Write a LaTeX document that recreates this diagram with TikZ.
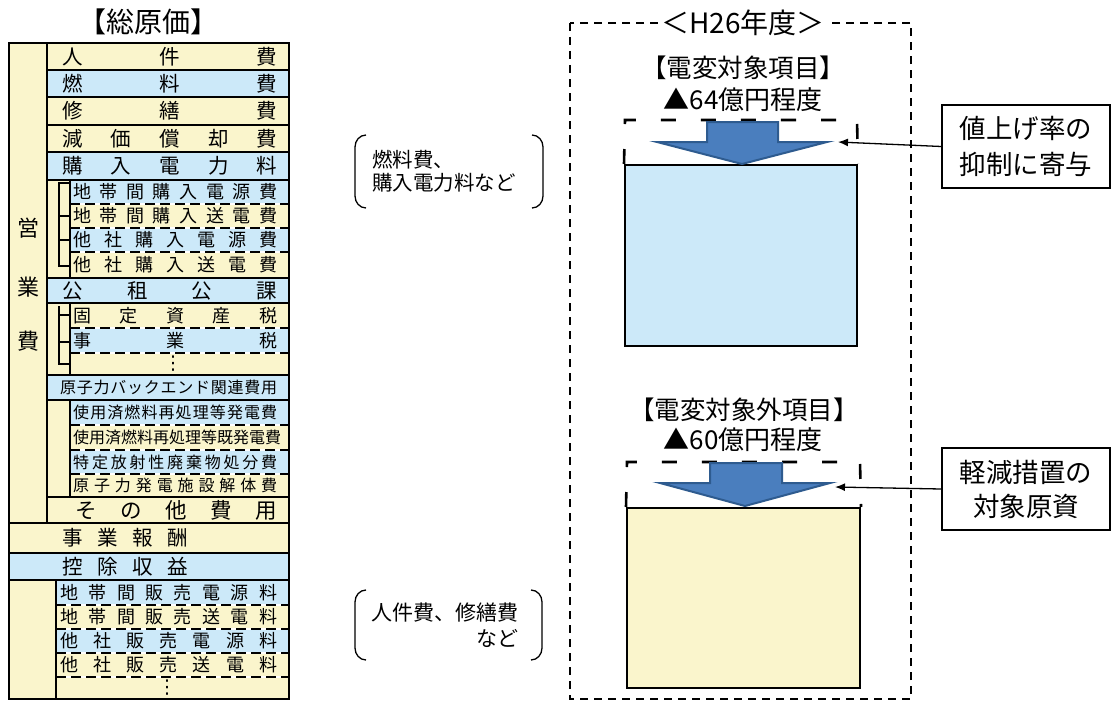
\documentclass[tikz,border=0pt]{standalone}
\usepackage{fontspec}
\setmainfont{Noto Sans CJK JP}
\newfontfamily\dejavu{DejaVu Sans}
\usetikzlibrary{arrows.meta}
\definecolor{cream}{HTML}{FAF5CC}
\definecolor{lblue}{HTML}{CCE9F9}
\definecolor{arrfill}{HTML}{4A7EBE}
\definecolor{arrline}{HTML}{2E5B8F}
\def\spreadchars#1{\spreadaux#1\endspread}
\def\spreadaux#1#2\endspread{#1\ifx\relax#2\relax\else\hfill\spreadaux#2\endspread\fi}
\newcommand\rowtxt[6]{%
  \node[rowtext, font=\fontsize{#5}{#5}\selectfont] (#1) at (#2,#4) {\hbox to \dimexpr #3pt-#2pt\relax{\spreadchars{#6}}};}
\tikzset{
  rowtext/.style={anchor=west, inner sep=0pt},
  rule/.style={line width=2.2pt},
  seprule/.style={line width=1.2pt, dash pattern=on 10pt off 5pt},
  tree/.style={line width=1.5pt},
  bigarrow/.style={fill=arrfill, draw=arrline, line width=2pt, line join=miter},
  callout/.style={draw, line width=1.5pt, minimum width=168pt, align=center, inner sep=0pt},
  pointer/.style={line width=1.3pt, -{Latex[length=10pt,width=8pt]}},
  bracketline/.style={line width=1.3pt},
  outerdash/.style={line width=1.4pt, dash pattern=on 8pt off 6pt},
  innerdash/.style={line width=2.6pt, dash pattern=on 15pt off 25pt},
  vdot/.style={inner sep=0pt, font=\dejavu\fontsize{19}{19}\selectfont},
}
\begin{document}
\begin{tikzpicture}[x=1pt,y=-1pt]
\useasboundingbox (0,0) rectangle (1113,701);
\fill[white] (0,0) rectangle (1113,701);

% ---------- left table fills ----------
\fill[cream] (9,43) rectangle (47,523);
\fill[cream] (47,43) rectangle (289,70);
\fill[lblue] (47,70) rectangle (289,97);
\fill[cream] (47,97) rectangle (289,125);
\fill[cream] (47,125) rectangle (289,152);
\fill[lblue] (47,152) rectangle (289,180);
\fill[cream] (47,180) rectangle (70,278);
\fill[lblue] (70,180) rectangle (289,204);
\fill[cream] (70,204) rectangle (289,228);
\fill[lblue] (70,228) rectangle (289,252);
\fill[cream] (70,252) rectangle (289,278);
\fill[lblue] (47,278) rectangle (289,303);
\fill[cream] (47,303) rectangle (289,375);
\fill[lblue] (70,328) rectangle (289,353);
\fill[lblue] (47,375) rectangle (289,400);
\fill[cream] (47,400) rectangle (289,497);
\fill[lblue] (70,400) rectangle (289,425);
\fill[lblue] (70,450) rectangle (289,474);
\fill[cream] (47,497) rectangle (289,523);
\fill[cream] (9,523) rectangle (289,553);
\fill[lblue] (9,553) rectangle (289,580);
\fill[cream] (9,580) rectangle (289,699);
\fill[lblue] (56,580) rectangle (289,605);
\fill[lblue] (56,629) rectangle (289,653);

% dashed separators
\foreach \yy in {204,228,252,328,353,425,450,474}{
  \draw[white, line width=2.4pt] (70,\yy) -- (289,\yy);
  \draw[seprule] (70,\yy) -- (289,\yy);}
\foreach \yy in {605,629,653,677}{
  \draw[white, line width=2.4pt] (56,\yy) -- (289,\yy);
  \draw[seprule] (56,\yy) -- (289,\yy);}

% solid rules
\foreach \yy in {70,97,125,152,180,278,303,375,400,497}{
  \draw[rule] (47,\yy) -- (289,\yy);}
\foreach \yy in {523,553,580}{
  \draw[rule] (9,\yy) -- (289,\yy);}
\draw[rule] (47,43) -- (47,523);
\draw[rule] (56,580) -- (56,699);
\draw[tree] (70,180) -- (70,278);
\draw[tree] (70,303) -- (70,375);
\draw[tree] (70,400) -- (70,497);
\draw[line width=2.6pt] (9,43) rectangle (289,699);

% tree connectors
\draw[tree] (70,183) -| (59,266) -- (70,266);
\draw[tree] (59,216) -- (70,216);
\draw[tree] (59,240) -- (70,240);
\draw[tree] (59,306) -- (59,364) -- (70,364);
\draw[tree] (59,315) -- (70,315);
\draw[tree] (59,342) -- (70,342);

% ---------- left table texts ----------
\node[font=\fontsize{28}{28}\selectfont, inner sep=0pt] (title) at (148,22) {【総原価】};
\node[font=\fontsize{22}{22}\selectfont, inner sep=0pt] (ei) at (28,228) {営};
\node[font=\fontsize{22}{22}\selectfont, inner sep=0pt] (gyo) at (28,287) {業};
\node[font=\fontsize{22}{22}\selectfont, inner sep=0pt] (hi) at (28,341) {費};

\rowtxt{r1}{62}{277}{56.5}{20.5}{人件費}
\rowtxt{r2}{62}{277}{83.5}{20.5}{燃料費}
\rowtxt{r3}{62}{277}{111}{20.5}{修繕費}
\rowtxt{r4}{62}{277}{138.5}{20.5}{減価償却費}
\rowtxt{r5}{62}{277}{166}{20.5}{購入電力料}
\rowtxt{s1}{73}{277}{192}{18}{地帯間購入電源費}
\rowtxt{s2}{73}{277}{216}{18}{地帯間購入送電費}
\rowtxt{s3}{73}{277}{240}{18}{他社購入電源費}
\rowtxt{s4}{73}{277}{265}{18}{他社購入送電費}
\rowtxt{r6}{62}{277}{290.5}{20.5}{公租公課}
\rowtxt{s5}{73}{277}{315.5}{18}{固定資産税}
\rowtxt{s6}{73}{277}{340.5}{18}{事業税}
\node[vdot] (d1) at (173,364) {⋮};
\rowtxt{r7}{60}{277}{387.5}{16}{原子力バックエンド関連費用}
\rowtxt{s8}{73}{277}{412.5}{16}{使用済燃料再処理等発電費}
\rowtxt{s9}{73}{277}{437.5}{16}{使用済燃料再処理等既発電費}
\rowtxt{s10}{73}{277}{462}{16}{特定放射性廃棄物処分費}
\rowtxt{s11}{73}{277}{485.5}{16}{原子力発電施設解体費}
\rowtxt{r8}{75}{277}{510}{21.5}{その他費用}
\rowtxt{r9}{62}{188}{538}{20.5}{事業報酬}
\rowtxt{r10}{62}{188}{566.5}{20.5}{控除収益}
\rowtxt{b1}{60}{277}{592.5}{18}{地帯間販売電源料}
\rowtxt{b2}{60}{277}{617}{18}{地帯間販売送電料}
\rowtxt{b3}{60}{277}{641}{18}{他社販売電源料}
\rowtxt{b4}{60}{277}{665}{18}{他社販売送電料}
\node[vdot] (d2) at (167,688) {⋮};

% ---------- middle brackets ----------
\node[anchor=west, align=left, inner sep=0pt, font=\fontsize{20.5}{23}\selectfont] (br1) at (372,171.5) {燃料費、\\購入電力料など};
\draw[bracketline] (366,135) to[out=180,in=90] (355,147) -- (355,196) to[out=-90,in=180] (366,208);
\draw[bracketline] (532,135) to[out=0,in=90] (543,147) -- (543,196) to[out=-90,in=0] (532,208);
\node[anchor=east, align=right, inner sep=0pt, font=\fontsize{21}{26.5}\selectfont] (br2) at (519,625) {人件費、修繕費\\など};
\draw[bracketline] (366,590) to[out=180,in=90] (355,602) -- (355,648) to[out=-90,in=180] (366,660);
\draw[bracketline] (531,590) to[out=0,in=90] (542,602) -- (542,648) to[out=-90,in=0] (531,660);

% ---------- right panel ----------
\draw[outerdash] (570,23) rectangle (911,699);
\node[fill=white, inner xsep=3pt, inner ysep=1pt, font=\fontsize{28}{28}\selectfont] (year) at (743,23) {＜H26年度＞};

\node[inner sep=0pt, font=\fontsize{25.5}{25.5}\selectfont] (h1) at (743,68) {【電変対象項目】};
\node[inner sep=0pt, font=\fontsize{26}{26}\selectfont] (v1) at (743,100) {▲64億円程度};
\node[draw, line width=2pt, fill=lblue, minimum width=232pt, minimum height=181pt, inner sep=0pt] (box1) at (741,255.5) {};
\draw[innerdash] (box1.north west) -- (625,120) -- (857,120) -- (box1.north east);
\draw[bigarrow] (707,122) -- (778,122) -- (778,142) -- (827,142) -- (742,164) -- (657,142) -- (707,142) -- cycle;

\node[inner sep=0pt, font=\fontsize{25.5}{25.5}\selectfont] (h2) at (744,410) {【電変対象外項目】};
\node[inner sep=0pt, font=\fontsize{26}{26}\selectfont] (v2) at (743,440) {▲60億円程度};
\node[draw, line width=2pt, fill=cream, minimum width=233pt, minimum height=180pt, inner sep=0pt] (box2) at (743.5,598) {};
\draw[innerdash] (box2.north west) -- (627,462) -- (860,462) -- (box2.north east);
\draw[bigarrow] (710,463) -- (782,463) -- (782,483) -- (830,483) -- (745,506) -- (660,483) -- (710,483) -- cycle;

% callouts
\node[callout, minimum height=83pt, font=\fontsize{26.5}{36}\selectfont] (c1) at (1026,146.5) {値上げ率の\\抑制に寄与};
\node[callout, minimum height=82pt, font=\fontsize{26.5}{34}\selectfont] (c2) at (1026,489) {軽減措置の\\対象原資};
\coordinate (t1) at (838,142);
\coordinate (t2) at (835,487);
\draw[pointer] (c1.west) -- (t1);
\draw[pointer] (c2.west) -- (t2);
\end{tikzpicture}
\end{document}
